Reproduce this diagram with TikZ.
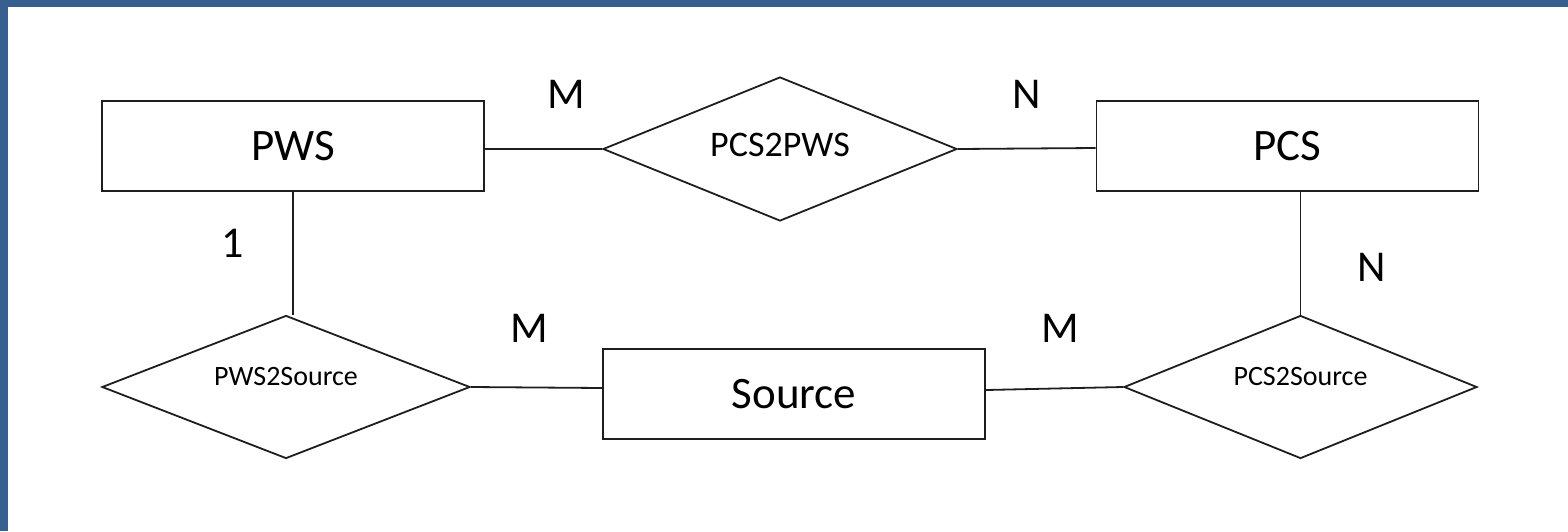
\documentclass[tikz,border=0pt]{standalone}
\usepackage{fontspec}
\setmainfont{Carlito}
\usetikzlibrary{shapes.geometric}
\definecolor{frameblue}{RGB}{55,96,145}
\definecolor{lineg}{RGB}{30,30,30}
\begin{document}
\begin{tikzpicture}[x=1pt,y=-1pt,
  entity/.style={draw=lineg,line width=1.9pt,fill=white,rectangle,minimum width=382pt,minimum height=90pt,inner sep=0pt,font=\fontsize{45}{54}\selectfont},
  relation/.style={draw=lineg,line width=1.8pt,fill=white,diamond,inner sep=0pt,aspect=2.4},
  conn/.style={draw=lineg,line width=1.8pt},
  card/.style={font=\fontsize{44}{52}\selectfont,inner sep=0pt}]
\fill[white] (0,0) rectangle (1568,531);
\useasboundingbox (0,0) rectangle (1568,531);
\fill[frameblue] (0,0) rectangle (1568,7);
\fill[frameblue] (0,0) rectangle (8,531);

\node[entity] (pws) at (293,146) {PWS};
\node[entity] (pcs) at (1287.5,146) {PCS};
\node[entity] (src) at (794,394) {Source};

\node[relation,minimum width=354pt,minimum height=144pt,
  label={[font=\fontsize{36}{42}\selectfont,inner sep=0pt,yshift=4pt]center:PCS2PWS}] (r1) at (780,149) {};
\node[relation,minimum width=368pt,minimum height=143pt,
  label={[font=\fontsize{28}{34}\selectfont,inner sep=0pt,yshift=10pt]center:PWS2Source}] (r2) at (286,387) {};
\node[relation,minimum width=353pt,minimum height=143pt,
  label={[font=\fontsize{28}{34}\selectfont,inner sep=0pt,yshift=10pt]center:PCS2Source}] (r3) at (1300.5,387) {};

\draw[conn] ([yshift=-3pt]pws.east) -- (r1.west);
\draw[conn] (r1.east) -- ([yshift=-2pt]pcs.west);
\draw[conn] (pws.south) -- (pws.south |- r2.north);
\draw[conn] (pcs.south -| r3.north) -- (r3.north);
\draw[conn] (r2.east) -- ([yshift=6pt]src.west);
\draw[conn] ([yshift=4pt]src.east) -- (r3.west);

\node[card] (m1) at (566,94) {M};
\node[card] (n1) at (1027,94) {N};
\node[card] (c1) at (233,243) {1};
\node[card] (n2) at (1372,267) {N};
\node[card] (m2) at (529,328) {M};
\node[card] (m3) at (1060,328) {M};
\end{tikzpicture}
\end{document}
